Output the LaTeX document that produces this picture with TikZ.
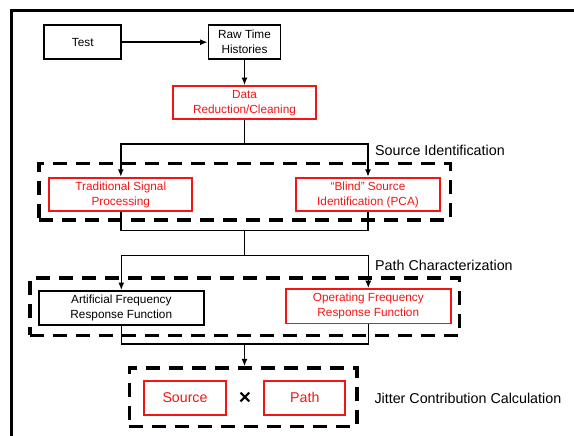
\documentclass[tikz,border=0pt]{standalone}
\usepackage{fontspec}
\setmainfont{Liberation Sans}
\usetikzlibrary{positioning,calc}
\usetikzlibrary{arrows.meta}
\definecolor{FlowRed}{RGB}{245,20,20}
\tikzset{
  box/.style={draw=black,line width=1.7pt,inner sep=0pt,align=center,
    font=\fontsize{11.8}{15}\selectfont},
  redbox/.style={box,draw=FlowRed,text=FlowRed},
  grp/.style={draw=black,line width=3.3pt,dash pattern=on 14pt off 9pt,inner sep=0pt},
  link/.style={draw=black,line width=1.5pt},
  arr/.style={link,-{Latex[length=7.5pt,width=6pt]}},
}
\tikzset{lab/.style={anchor=west,inner sep=0pt,font=\fontsize{14.3}{17}\selectfont}, big/.style={redbox,font=\fontsize{14.2}{17}\selectfont}}

\begin{document}
\begin{tikzpicture}[x=1pt,y=-1pt]
\useasboundingbox (0,0) rectangle (574,436);
\draw[line width=3pt] (11,436) -- (11,11) -- (574,11);
\node[grp,minimum width=411.3pt,minimum height=56.7pt] (srcgrp) at (244.65,191.65) {};
\node[grp,minimum width=429.7pt,minimum height=57.3pt] (pathgrp) at (244.85,306.65) {};
\node[grp,minimum width=227.7pt,minimum height=58.3pt] (calcgrp) at (243.15,397.15) {};
\node[box,minimum width=77pt,minimum height=34pt] (test) at (82.8,42.2) {Test};
\node[box,minimum width=72pt,minimum height=34pt] (raw) at (244.5,42.2) {Raw Time\\Histories};
\node[redbox,minimum width=143.6pt,minimum height=33.3pt] (data) at (244.5,102.7) {Data\\Reduction/Cleaning};
\node[redbox,minimum width=143pt,minimum height=33.6pt] (trad) at (120.8,194.5) {Traditional Signal\\Processing};
\node[redbox,minimum width=143.4pt,minimum height=33.6pt] (blind) at (368,194.5) {``Blind'' Source\\Identification (PCA)};
\node[box,minimum width=164.7pt,minimum height=33.7pt] (artif) at (121.3,307.8) {Artificial Frequency\\Response Function};
\node[redbox,minimum width=165.3pt,minimum height=34.3pt] (oper) at (368.3,306.2) {Operating Frequency\\Response Function};
\node[big,minimum width=82pt,minimum height=34pt] (src) at (185,397.7) {Source};
\node[big,minimum width=81pt,minimum height=34pt] (path) at (304.8,397.7) {Path};
\node[inner sep=0pt,font=\bfseries\fontsize{21}{21}\selectfont] (times) at (245,398) {×};
\node[lab] (srcid) at (375,150) {Source Identification};
\node[lab] (pathch) at (375,265.3) {Path Characterization};
\node[lab] (jitter) at (374.3,398) {Jitter Contribution Calculation};
\coordinate (s1) at (244.5,144);
\coordinate (m1) at (244.5,230.3);
\coordinate (s2) at (244.5,255.3);
\coordinate (m2) at (244.5,344);
\draw[arr] (test) -- (raw);
\draw[arr] (raw) -- (data);
\draw[link] (data) -- (s1);
\draw[arr] (s1) -| (trad);
\draw[arr] (s1) -| (blind);
\draw[link] (trad) |- (m1) -| (blind);
\draw[link] (m1) -- (s2);
\draw[arr] (s2) -| (artif);
\draw[arr] (s2) -| (oper);
\draw[link] (artif) |- (m2) -| (oper);
\draw[arr] (m2) -- (m2 |- calcgrp.north);
\end{tikzpicture}
\end{document}
